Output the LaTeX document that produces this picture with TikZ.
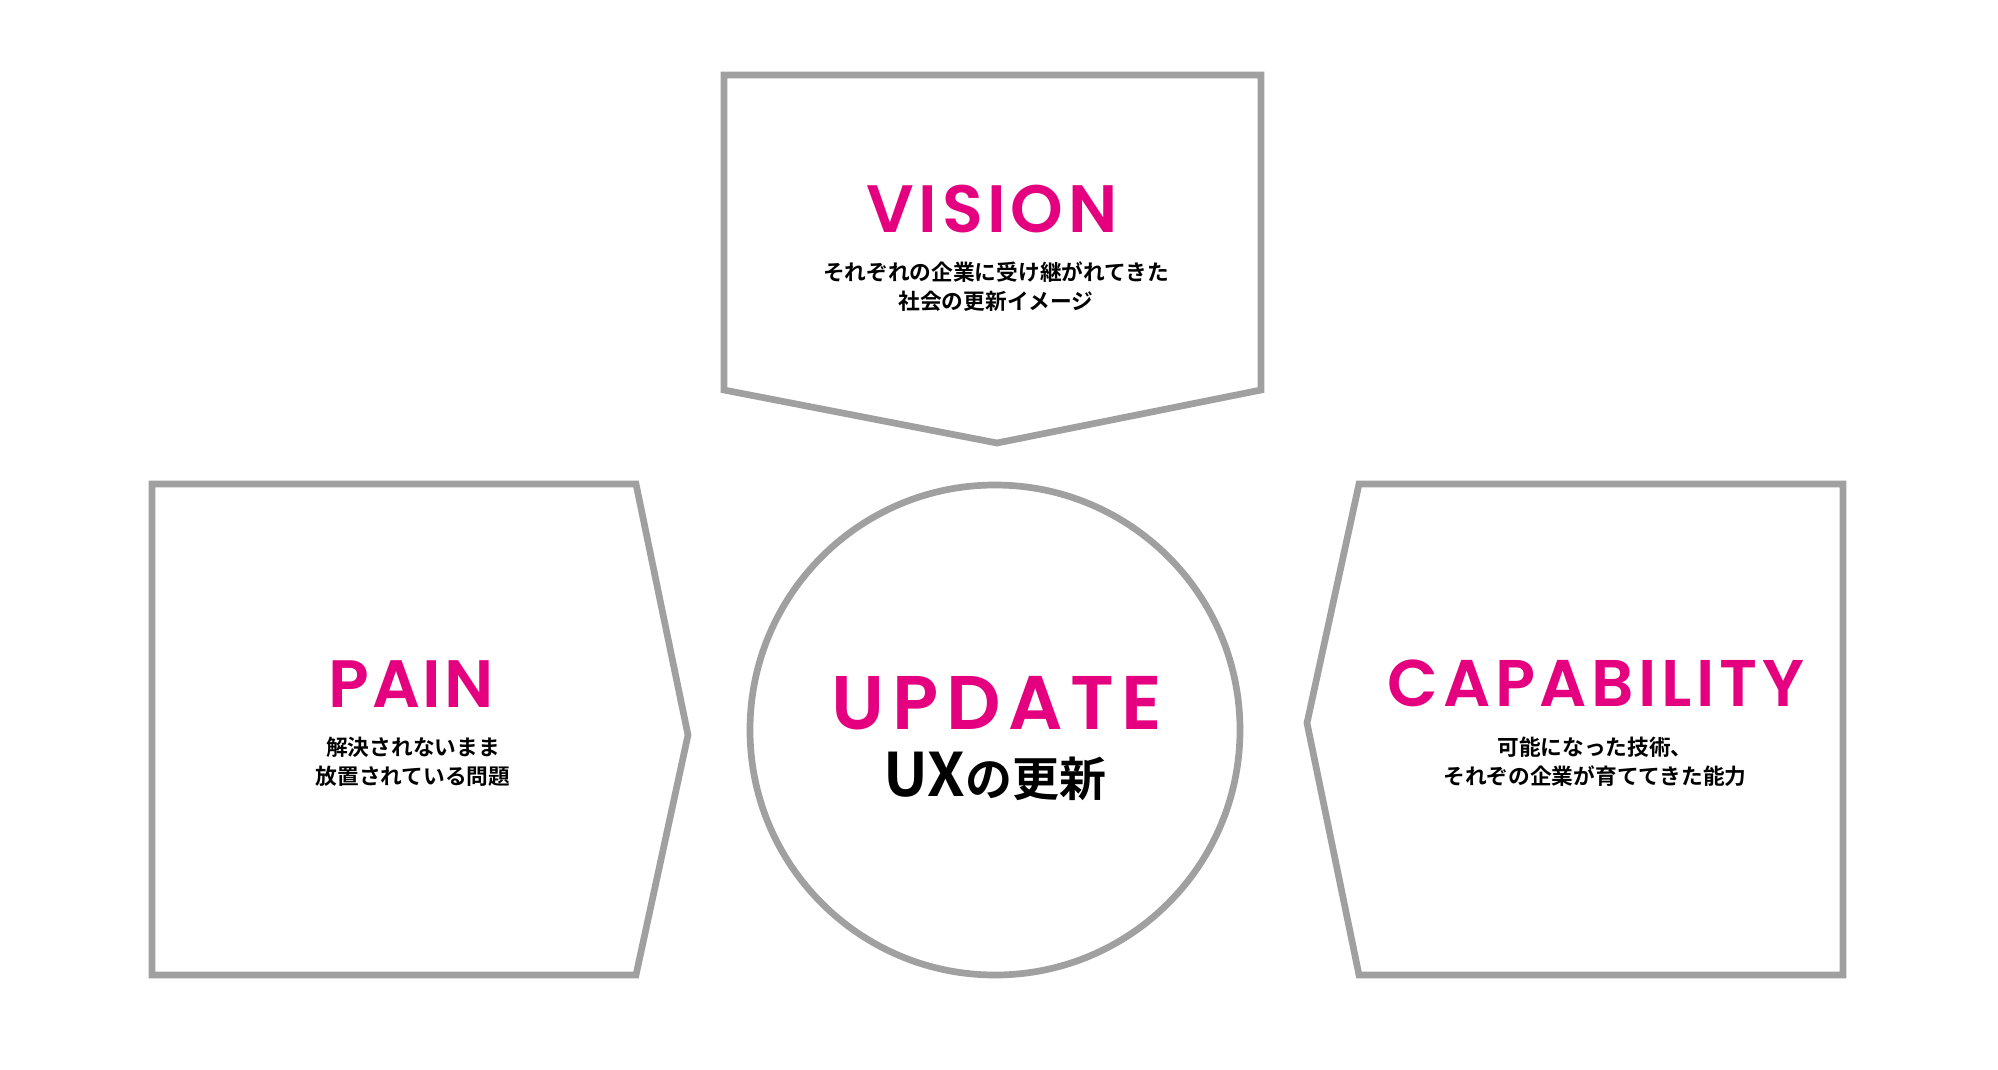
\documentclass[tikz,border=0pt]{standalone}
\usepackage{fontspec}
\newfontfamily\enfont{Poppins SemiBold}
\newfontfamily\jpfont{Noto Sans CJK JP Bold}
\definecolor{mag}{HTML}{E4007F}
\definecolor{framegray}{HTML}{A0A0A0}
\tikzset{
  frameline/.style={draw=framegray, line width=3.35pt, line join=miter},
  title/.style={inner sep=0pt, anchor=base, text=mag},
  desc/.style={inner sep=0pt, anchor=base, align=center, text=black, font=\jpfont\fontsize{10.85pt}{14.5pt}\selectfont}
}
\begin{document}
\begin{tikzpicture}[x=0.5pt,y=-0.5pt]
\useasboundingbox[fill=white] (0,0) rectangle (1998,1070);
% shapes
\draw[frameline] (724,75) -- (1261,75) -- (1261,390) -- (997,443) -- (724,390) -- cycle;
\draw[frameline] (152,484) -- (636,484) -- (688,735) -- (636,975) -- (152,975) -- cycle;
\draw[frameline] (1359,484) -- (1843,484) -- (1843,975) -- (1359,975) -- (1307,723) -- cycle;
\draw[frameline] (995,730) circle[radius=245];
% texts
\node[title, font=\enfont\addfontfeatures{LetterSpace=7}\fontsize{33.5pt}{40pt}\selectfont] (vision) at (992,233) {VISION};
\node[desc] (visiondesc) at (996,309) {それぞれの企業に受け継がれてきた\\社会の更新イメージ};
\node[title, font=\enfont\addfontfeatures{LetterSpace=4}\fontsize{33.5pt}{40pt}\selectfont] (pain) at (411,707) {PAIN};
\node[desc] (paindesc) at (413,784) {解決されないまま\\放置されている問題};
\node[title, font=\enfont\addfontfeatures{LetterSpace=7}\fontsize{33pt}{40pt}\selectfont] (cap) at (1596,706) {CAPABILITY};
\node[desc] (capdesc) at (1595,784) {可能になった技術、\\それぞの企業が育ててきた能力};
\node[title, font=\enfont\addfontfeatures{LetterSpace=10}\fontsize{38pt}{44pt}\selectfont] (update) at (997,729) {UPDATE};
\node[inner sep=0pt, anchor=base, text=black] (ux) at (995,796) {\jpfont\fontsize{30pt}{34pt}\selectfont UX\fontsize{23.5pt}{30pt}\selectfont の更新};
\end{tikzpicture}
\end{document}
